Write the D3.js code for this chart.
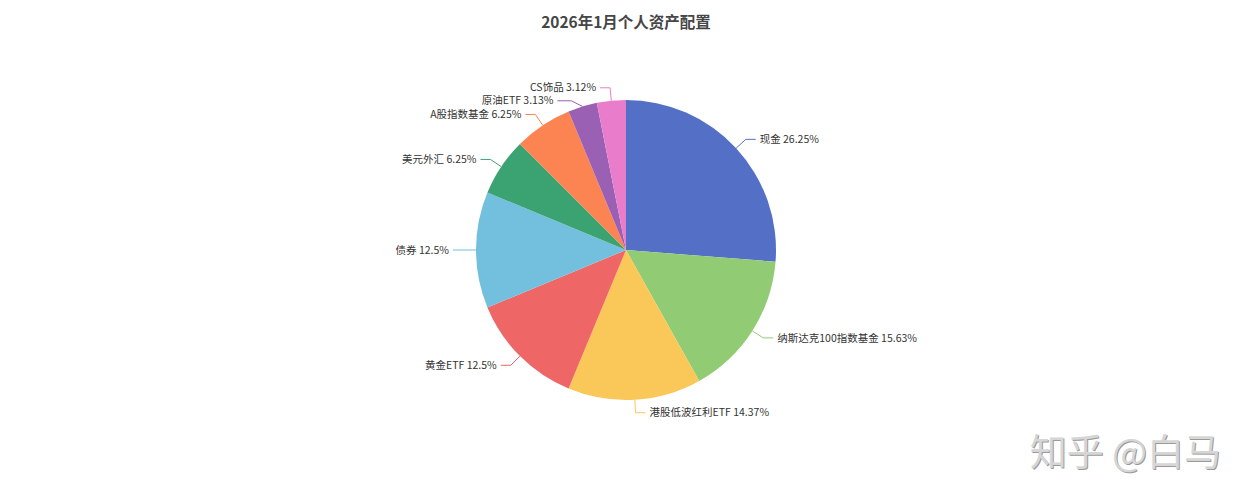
<!DOCTYPE html>
<html><head><meta charset="utf-8">
<script src="https://cdn.jsdelivr.net/npm/d3@7/dist/d3.min.js"></script>
<style>
html,body{margin:0;padding:0;background:#fff;}
svg{display:block;}
</style></head>
<body>
<svg id="chart" width="1253" height="500"></svg>
<script>
const titleText = "2026年1月个人资产配置";
const categories = ["现金","纳斯达克100指数基金","港股低波红利ETF","黄金ETF","债券","美元外汇","A股指数基金","原油ETF","CS饰品"];
const values = [26.25,15.63,14.37,12.5,12.5,6.25,6.25,3.13,3.12];
const colors = ["#5470c6","#91cc75","#fac858","#ee6666","#73c0de","#3ba272","#fc8452","#9a60b4","#ea7ccc"];
const watermark = "知乎 @白马";

const W = 1253, H = 500, cx = 626, cy = 250, R = 150;
const LEN = 13, LEN2 = 10, GAP = 4, LINEH = 13;
const FONT = "'Noto Sans CJK SC','Microsoft YaHei',sans-serif";

const svg = d3.select("#chart");
svg.append("text").attr("x", cx).attr("y", 28).attr("text-anchor","middle")
  .attr("font-family", FONT).attr("font-size", 15.5).attr("font-weight","bold")
  .attr("fill","#464646").text(titleText);

const data = categories.map((c,i)=>({name:c, value:values[i], color:colors[i]}));
const pie = d3.pie().value(d=>d.value).sort(null);
const arcs = pie(data);
const arc = d3.arc().innerRadius(0).outerRadius(R);
const color = d3.scaleOrdinal().domain(categories).range(colors);

const g = svg.append("g").attr("transform",`translate(${cx},${cy})`);
g.selectAll("path.slice").data(arcs).enter().append("path")
  .attr("class","slice").attr("d",arc).attr("fill",d=>color(d.data.name));

// label layout
const labels = arcs.map(a=>{
  const mid = (a.startAngle+a.endAngle)/2;
  const sx = Math.sin(mid), sy = -Math.cos(mid);
  const side = sx >= 0 ? 1 : -1;
  return {a, mid, side,
    p0:[R*sx, R*sy],
    bx:(R+LEN)*sx, by:(R+LEN)*sy, y:(R+LEN)*sy,
    text: a.data.name + " " + a.data.value + "%"};
});
// avoid overlap per side
[1,-1].forEach(side=>{
  const items = labels.filter(l=>l.side===side).sort((p,q)=>p.y-q.y);
  for(let i=1;i<items.length;i++){
    if(items[i].y - items[i-1].y < LINEH) items[i].y = items[i-1].y + LINEH;
  }
});
labels.forEach(l=>{
  const rr = R+LEN;
  const dy = Math.min(Math.abs(l.y), rr);
  const nx = Math.sqrt(rr*rr - dy*dy);
  const shifted = Math.abs(l.y - l.by) > 0.5;
  const bendX = shifted ? l.side*(nx + 0.6*(Math.abs(l.bx)-nx)) : l.bx;
  const endX = shifted ? l.side*(nx + LEN2*0.3) : l.bx + l.side*LEN2;
  l.points = [l.p0, [bendX, l.y], [endX, l.y]];
  l.tx = endX + l.side*GAP;
});

const line = d3.line();
g.selectAll("path.lbl").data(labels).enter().append("path")
  .attr("class","lbl").attr("d",d=>line(d.points))
  .attr("fill","none").attr("stroke",d=>color(d.a.data.name)).attr("stroke-width",1);

g.selectAll("text.lbl").data(labels).enter().append("text")
  .attr("class","lbl").attr("x",d=>d.tx).attr("y",d=>d.y)
  .attr("dy","0.35em").attr("text-anchor",d=>d.side>0?"start":"end")
  .attr("font-family",FONT).attr("font-size",10.5).attr("fill","#333")
  .text(d=>d.text);

// watermark
svg.append("text").attr("x",1221).attr("y",466).attr("text-anchor","end")
  .attr("font-family",FONT).attr("font-size",37).attr("fill","#9a9a9a")
  .attr("transform","translate(1,1)").text(watermark);
svg.append("text").attr("x",1221).attr("y",466).attr("text-anchor","end")
  .attr("font-family",FONT).attr("font-size",37).attr("fill","#d6d6d6")
  .text(watermark);
</script>
</body></html>
